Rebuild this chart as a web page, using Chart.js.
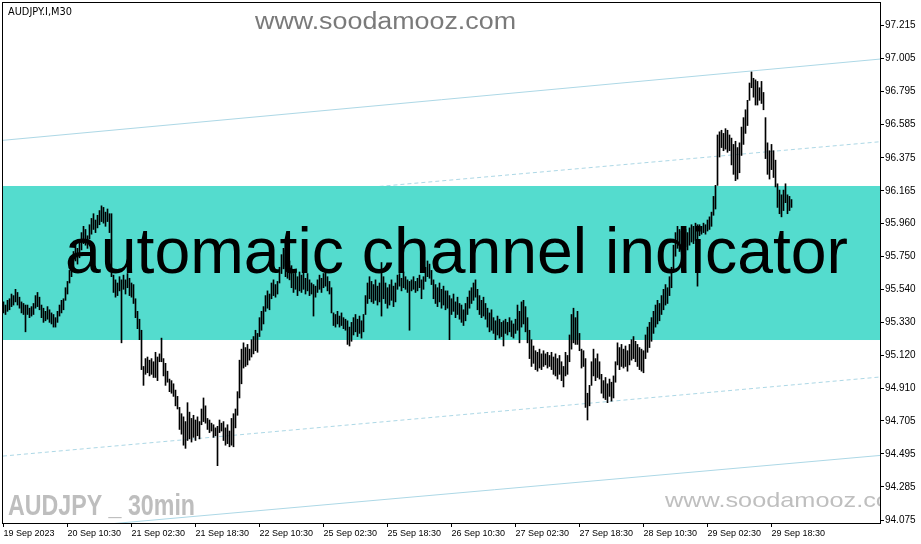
<!DOCTYPE html>
<html>
<head>
<meta charset="utf-8">
<script src="https://cdn.jsdelivr.net/npm/chart.js@4/dist/chart.umd.min.js"></script>
<style>
html,body{margin:0;padding:0;background:#fff;}
canvas{display:block;}
</style>
</head>
<body>
<canvas id="c" width="921" height="544"></canvas>
<script>
// ---- DATA ----
const symbolTitle = "AUDJPY.I,M30";
const overlayText = "automatic channel indicator";
const watermark = "www.soodamooz.com";
const pairLabel = "AUDJPY _ 30min";

const xTickLabels = ["19 Sep 2023","20 Sep 10:30","21 Sep 02:30","21 Sep 18:30","22 Sep 10:30","25 Sep 02:30","25 Sep 18:30","26 Sep 10:30","27 Sep 02:30","27 Sep 18:30","28 Sep 10:30","29 Sep 02:30","29 Sep 18:30"];
const barsPerLabel = 32;
const yTickLabels = [97.215,97.005,96.795,96.585,96.375,96.165,95.960,95.750,95.540,95.330,95.120,94.910,94.705,94.495,94.285,94.075];

const highs = [
95.46,95.44,95.47,95.48,95.51,95.50,95.54,95.52,95.49,95.46,
95.45,95.44,95.44,95.42,95.43,95.45,95.50,95.52,95.49,95.44,
95.42,95.40,95.43,95.41,95.39,95.38,95.36,95.40,95.44,95.47,
95.48,95.55,95.59,95.66,95.73,95.78,95.82,95.80,95.85,95.90,
95.94,95.92,95.88,95.95,95.99,96.02,95.98,96.01,96.04,96.07,
96.06,96.03,96.05,96.02,96.02,95.63,95.60,95.58,95.62,95.60,
95.63,95.60,95.64,95.61,95.58,95.57,95.48,95.40,95.35,95.28,
95.05,95.10,95.11,95.09,95.10,95.08,95.14,95.11,95.13,95.23,
95.10,95.07,95.02,94.97,94.96,94.94,94.90,94.86,94.79,94.75,
94.73,94.70,94.82,94.76,94.72,94.74,94.71,94.73,94.70,94.78,
94.85,94.80,94.72,94.71,94.69,94.68,94.66,94.67,94.71,94.69,
94.70,94.66,94.68,94.64,94.72,94.75,94.78,94.89,95.09,95.16,
95.20,95.17,95.19,95.16,95.22,95.24,95.28,95.26,95.36,95.40,
95.43,95.50,95.53,95.51,95.58,95.60,95.57,95.59,95.68,95.76,
95.80,95.79,95.74,95.72,95.69,95.64,95.66,95.62,95.65,95.63,
95.66,95.61,95.64,95.60,95.58,95.57,95.56,95.60,95.63,95.61,
95.64,95.66,95.62,95.59,95.55,95.39,95.38,95.40,95.37,95.39,
95.36,95.35,95.34,95.30,95.33,95.36,95.38,95.35,95.37,95.34,
95.38,95.50,95.58,95.62,95.59,95.57,95.60,95.56,95.58,95.71,
95.62,95.58,95.55,95.57,95.60,95.56,95.58,95.63,95.64,95.61,
95.65,95.62,95.60,95.59,95.60,95.62,95.59,95.61,95.63,95.60,
95.62,95.68,95.72,95.70,95.66,95.60,95.57,95.55,95.58,95.54,
95.56,95.53,95.53,95.50,95.48,95.51,95.46,95.49,95.45,95.44,
95.41,95.45,95.49,95.53,95.55,95.58,95.60,95.54,95.50,95.47,
95.49,95.45,95.42,95.39,95.41,95.36,95.34,95.37,95.35,95.33,
95.34,95.35,95.33,95.36,95.34,95.32,95.35,95.44,95.40,95.46,
95.47,95.43,95.36,95.28,95.22,95.18,95.15,95.14,95.16,95.13,
95.15,95.13,95.14,95.12,95.14,95.11,95.13,95.10,95.12,95.08,
95.05,95.14,95.12,95.25,95.38,95.42,95.36,95.40,95.26,95.16,
95.15,95.10,94.88,94.93,95.08,95.16,95.10,95.13,95.08,95.00,
94.96,94.98,94.94,94.97,94.95,94.99,95.08,95.20,95.17,95.19,
95.16,95.18,95.15,95.19,95.22,95.24,95.21,95.19,95.17,95.16,
95.15,95.25,95.30,95.33,95.36,95.40,95.44,95.47,95.45,95.50,
95.54,95.57,95.55,95.62,95.68,95.82,95.90,95.94,95.92,95.91,
95.89,95.92,95.90,95.93,95.95,95.94,95.96,95.95,95.95,95.94,
95.96,95.95,95.98,96.00,96.03,96.13,96.20,96.52,96.54,96.55,
96.53,96.56,96.55,96.52,96.50,96.46,96.48,96.44,96.47,96.57,
96.63,96.68,96.74,96.85,96.92,96.88,96.87,96.86,96.82,96.86,
96.79,96.63,96.47,96.42,96.46,96.42,96.36,96.21,96.17,96.14,
96.17,96.21,96.14,96.13,96.11];

const lows = [
95.39,95.38,95.40,95.41,95.43,95.44,95.46,95.44,95.42,95.39,
95.38,95.27,95.38,95.36,95.37,95.38,95.42,95.43,95.41,95.36,
95.33,95.34,95.35,95.33,95.32,95.30,95.30,95.33,95.37,95.39,
95.41,95.47,95.51,95.58,95.62,95.68,95.72,95.70,95.74,95.79,
95.83,95.82,95.80,95.86,95.89,95.92,95.90,95.93,95.95,95.97,
95.96,95.94,95.97,95.90,95.62,95.52,95.49,95.50,95.53,95.20,
95.54,95.51,95.55,95.50,95.49,95.45,95.36,95.29,95.22,95.03,
94.93,95.00,95.01,94.99,95.00,94.98,94.98,94.96,95.08,95.08,
94.99,94.93,94.95,94.89,94.88,94.86,94.80,94.78,94.65,94.62,
94.55,94.53,94.58,94.59,94.57,94.60,94.58,94.61,94.59,94.68,
94.70,94.69,94.65,94.63,94.64,94.60,94.61,94.42,94.63,94.64,
94.58,94.55,94.56,94.54,94.55,94.54,94.66,94.74,94.85,94.94,
95.04,95.05,95.06,95.09,95.11,95.13,95.15,95.14,95.24,95.28,
95.32,95.40,95.42,95.41,95.48,95.50,95.49,95.51,95.58,95.64,
95.67,95.62,95.61,95.60,95.55,95.52,95.54,95.50,95.53,95.52,
95.54,95.51,95.53,95.50,95.51,95.37,95.49,95.52,95.54,95.52,
95.55,95.56,95.53,95.51,95.39,95.31,95.30,95.32,95.30,95.31,
95.29,95.28,95.19,95.18,95.21,95.25,95.27,95.24,95.26,95.23,
95.27,95.38,95.45,95.48,95.46,95.45,95.47,95.44,95.46,95.37,
95.48,95.45,95.42,95.44,95.47,95.43,95.46,95.54,95.56,95.53,
95.55,95.54,95.52,95.28,95.53,95.54,95.52,95.53,95.55,95.48,
95.54,95.59,95.62,95.61,95.57,95.48,95.45,95.43,95.46,95.42,
95.44,95.41,95.42,95.22,95.38,95.40,95.36,95.38,95.35,95.33,
95.31,95.34,95.38,95.42,95.45,95.47,95.49,95.41,95.38,95.36,
95.37,95.35,95.30,95.27,95.28,95.26,95.22,95.25,95.23,95.24,
95.18,95.26,95.25,95.27,95.24,95.23,95.26,95.28,95.20,95.30,
95.32,95.27,95.20,95.10,95.05,95.07,95.03,95.02,95.04,95.03,
95.05,95.06,95.04,95.05,95.03,95.00,94.99,94.97,95.00,94.96,
94.92,94.99,95.00,95.08,95.16,95.20,95.19,95.19,95.15,95.04,
95.05,94.79,94.71,94.80,94.93,94.99,94.96,94.98,94.97,94.88,
94.85,94.84,94.82,94.86,94.83,94.85,94.95,95.06,95.03,95.05,
95.04,95.05,95.02,95.06,95.09,95.10,95.08,95.05,95.03,95.02,
95.01,95.10,95.14,95.17,95.21,95.26,95.30,95.32,95.34,95.38,
95.41,95.44,95.45,95.50,95.55,95.66,95.75,95.80,95.78,95.79,
95.80,95.81,95.79,95.82,95.84,95.83,95.85,95.56,95.88,95.89,
95.90,95.89,95.91,95.92,95.94,96.01,96.05,96.20,96.38,96.44,
96.42,96.43,96.41,96.42,96.33,96.27,96.23,96.24,96.28,96.39,
96.46,96.53,96.58,96.74,96.82,96.76,96.71,96.71,96.74,96.72,
96.68,96.37,96.27,96.24,96.30,96.25,96.19,96.06,96.02,96.00,
96.04,96.09,96.02,96.04,96.06];

// channel lines: value at left edge and right edge of the chart
const channelStart = [96.486, 95.980, 94.481, 93.990];
const channelEnd   = [97.002, 96.477, 94.983, 94.485];
// highlighted band (price levels)
const bandLevels = [95.218, 96.196];

// ---- SCALE RANGE ----
const xMin = -0.25, xMax = 438.25;
const yMin = 94.056, yMax = 97.358;

const channelDash = [[], [4,3], [4,3], []];
const channelColor = '#ADD8E6';

function fitText(ctx, text, x, baseline, width, font, color) {
  ctx.save();
  ctx.font = font;
  const w = ctx.measureText(text).width;
  ctx.translate(x, baseline);
  ctx.scale(width / w, 1);
  ctx.fillStyle = color;
  ctx.textBaseline = 'alphabetic';
  ctx.textAlign = 'left';
  ctx.fillText(text, 0, 0);
  ctx.restore();
}

const bandPlugin = {
  id: 'band',
  afterDatasetDraw(chart, args) {
    if (args.index !== 1) return;
    const {ctx, chartArea, scales} = chart;
    const yTop = scales.y.getPixelForValue(bandLevels[1]);
    const yBot = scales.y.getPixelForValue(bandLevels[0]);
    ctx.save();
    ctx.fillStyle = '#54DCCE';
    ctx.fillRect(chartArea.left, yTop, chartArea.right - chartArea.left, yBot - yTop);
    fitText(ctx, overlayText, 65, 273, 783, '64px "Liberation Sans", Arial, sans-serif', '#000');
    ctx.restore();
  }
};

const decoPlugin = {
  id: 'deco',
  beforeDraw(chart) {
    const ctx = chart.ctx;
    ctx.save();
    ctx.fillStyle = '#fff';
    ctx.fillRect(0, 0, chart.width, chart.height);
    ctx.restore();
  },
  afterDraw(chart) {
    const {ctx, chartArea} = chart;
    ctx.save();
    // frame
    ctx.strokeStyle = '#000';
    ctx.lineWidth = 1;
    ctx.strokeRect(chartArea.left - 0.5, chartArea.top - 0.5, chartArea.right - chartArea.left + 1, chartArea.bottom - chartArea.top + 1);
    // title
    fitText(ctx, symbolTitle, 8, 15, 64, '11px "DejaVu Sans", Tahoma, sans-serif', '#000');
    // top watermark
    fitText(ctx, watermark, 255, 29, 261, '23px "Liberation Sans", Arial, sans-serif', '#7A7A7A');
    // bottom-left pair label
    fitText(ctx, pairLabel, 8, 515, 187, 'bold 30px "Liberation Sans", Arial, sans-serif', '#BEBEBE');
    // bottom-right watermark (clipped)
    ctx.beginPath();
    ctx.rect(chartArea.left, chartArea.top, chartArea.right - chartArea.left, chartArea.bottom - chartArea.top);
    ctx.clip();
    fitText(ctx, watermark, 665, 507, 246, '21px "Liberation Sans", Arial, sans-serif', '#BFBFBF');
    ctx.restore();
  }
};

const barData = highs.map((h, i) => ({x: i, y: [lows[i], h]}));
const lineSets = channelStart.map((v, k) => ({
  type: 'line',
  data: [{x: xMin, y: v}, {x: xMax, y: channelEnd[k]}],
  borderColor: channelColor,
  borderWidth: 1,
  borderDash: channelDash[k],
  pointRadius: 0,
  fill: false,
  tension: 0
}));

new Chart(document.getElementById('c'), {
  type: 'bar',
  data: {
    datasets: [
      { type: 'bar', data: barData, backgroundColor: '#000', borderWidth: 0, barThickness: 1, grouped: false, borderSkipped: false },
      ...lineSets
    ]
  },
  options: {
    responsive: false,
    animation: false,
    devicePixelRatio: 1,
    layout: { padding: { left: 3, top: 3, right: 0, bottom: 0 } },
    plugins: { legend: { display: false }, tooltip: { enabled: false } },
    scales: {
      x: {
        type: 'linear', min: xMin, max: xMax, offset: false,
        grid: { offset: false, drawOnChartArea: false, drawTicks: true, tickLength: 4, color: '#000' },
        border: { display: false },
        ticks: {
          align: 'start', maxRotation: 0, minRotation: 0, autoSkip: false, padding: 1,
          color: '#000', font: { family: '"Liberation Sans", Arial, sans-serif', size: 9 },
          callback: (v, idx) => xTickLabels[idx]
        },
        afterBuildTicks: s => { s.ticks = xTickLabels.map((_, k) => ({ value: k * barsPerLabel })); },
        afterFit: s => { s.height = 21; s.paddingLeft = 0; s.paddingRight = 0; }
      },
      y: {
        position: 'right', min: yMin, max: yMax,
        grid: { drawOnChartArea: false, drawTicks: true, tickLength: 4, color: '#000' },
        border: { display: false },
        ticks: {
          padding: 1, color: '#000', font: { family: '"Liberation Sans", Arial, sans-serif', size: 10 },
          callback: v => Number(v).toFixed(3)
        },
        afterBuildTicks: s => { s.ticks = yTickLabels.map(v => ({ value: v })); },
        afterFit: s => { s.width = 41; s.paddingTop = 0; s.paddingBottom = 0; }
      }
    }
  },
  plugins: [bandPlugin, decoPlugin]
});
</script>
</body>
</html>
